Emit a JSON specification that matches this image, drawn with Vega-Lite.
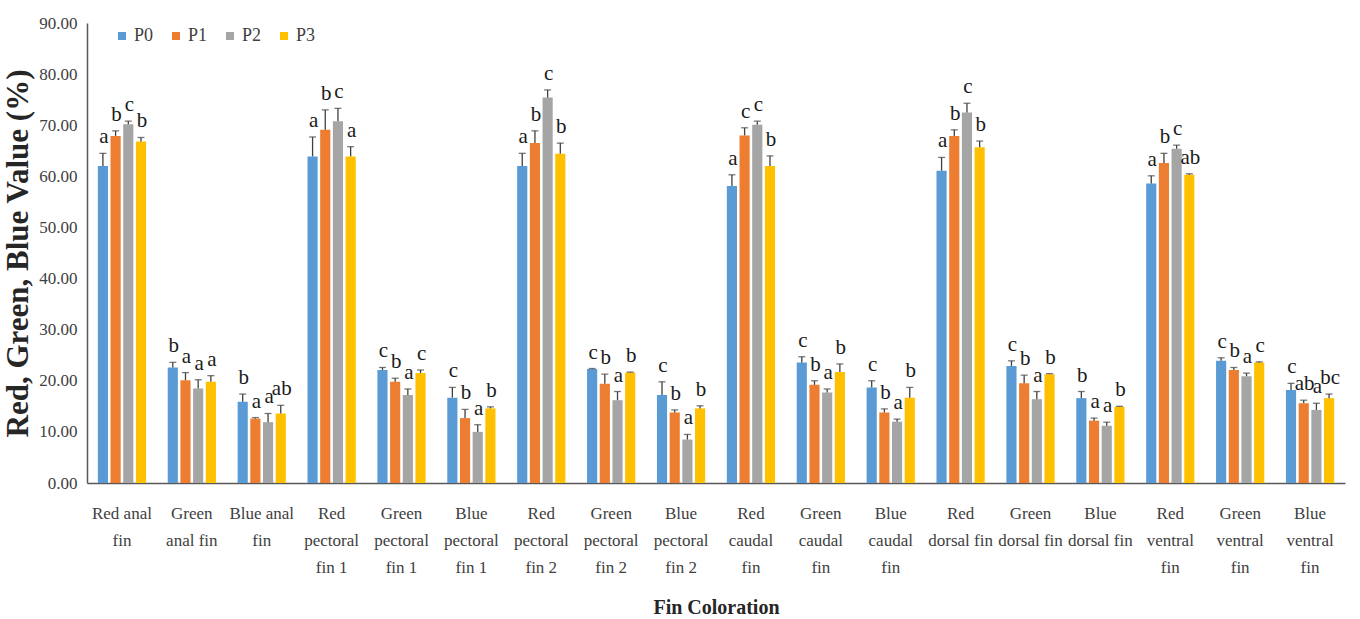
{
  "$schema": "https://vega.github.io/schema/vega-lite/v6.json",
  "autosize": "none",
  "width": 1258,
  "height": 460,
  "padding": {"left": 87, "top": 23, "right": 15, "bottom": 136},
  "background": "white",
  "config": {
    "view": {"stroke": null},
    "font": "Liberation Serif, Times New Roman, DejaVu Serif, serif",
    "axis": {"labelFont": "Liberation Serif, Times New Roman, serif", "titleFont": "Liberation Serif, Times New Roman, serif"},
    "legend": {"labelFont": "Liberation Serif, Times New Roman, serif"},
    "text": {"font": "Liberation Serif, Times New Roman, serif"}
  },
  "data": {
    "values": [
      {"fin": "Red anal fin", "group": "P0", "value": 62.0, "upper": 64.5, "letter": "a"},
      {"fin": "Red anal fin", "group": "P1", "value": 67.9, "upper": 68.9, "letter": "b"},
      {"fin": "Red anal fin", "group": "P2", "value": 70.2, "upper": 70.8, "letter": "c"},
      {"fin": "Red anal fin", "group": "P3", "value": 66.8, "upper": 67.6, "letter": "b"},
      {"fin": "Green anal fin", "group": "P0", "value": 22.6, "upper": 23.6, "letter": "b"},
      {"fin": "Green anal fin", "group": "P1", "value": 20.1, "upper": 21.6, "letter": "a"},
      {"fin": "Green anal fin", "group": "P2", "value": 18.5, "upper": 20.2, "letter": "a"},
      {"fin": "Green anal fin", "group": "P3", "value": 19.8, "upper": 21.0, "letter": "a"},
      {"fin": "Blue anal fin", "group": "P0", "value": 15.9, "upper": 17.4, "letter": "b"},
      {"fin": "Blue anal fin", "group": "P1", "value": 12.6, "upper": 12.8, "letter": "a"},
      {"fin": "Blue anal fin", "group": "P2", "value": 11.9, "upper": 13.6, "letter": "a"},
      {"fin": "Blue anal fin", "group": "P3", "value": 13.6, "upper": 15.2, "letter": "ab"},
      {"fin": "Red pectoral fin 1", "group": "P0", "value": 63.9, "upper": 67.7, "letter": "a"},
      {"fin": "Red pectoral fin 1", "group": "P1", "value": 69.1, "upper": 73.0, "letter": "b"},
      {"fin": "Red pectoral fin 1", "group": "P2", "value": 70.8, "upper": 73.3, "letter": "c"},
      {"fin": "Red pectoral fin 1", "group": "P3", "value": 63.9, "upper": 65.8, "letter": "a"},
      {"fin": "Green pectoral fin 1", "group": "P0", "value": 22.1, "upper": 22.6, "letter": "c"},
      {"fin": "Green pectoral fin 1", "group": "P1", "value": 19.8, "upper": 20.5, "letter": "b"},
      {"fin": "Green pectoral fin 1", "group": "P2", "value": 17.2, "upper": 18.4, "letter": "a"},
      {"fin": "Green pectoral fin 1", "group": "P3", "value": 21.5, "upper": 22.1, "letter": "c"},
      {"fin": "Blue pectoral fin 1", "group": "P0", "value": 16.7, "upper": 18.7, "letter": "c"},
      {"fin": "Blue pectoral fin 1", "group": "P1", "value": 12.7, "upper": 14.4, "letter": "b"},
      {"fin": "Blue pectoral fin 1", "group": "P2", "value": 10.0, "upper": 11.4, "letter": "a"},
      {"fin": "Blue pectoral fin 1", "group": "P3", "value": 14.6, "upper": 14.9, "letter": "b"},
      {"fin": "Red pectoral fin 2", "group": "P0", "value": 62.0, "upper": 64.5, "letter": "a"},
      {"fin": "Red pectoral fin 2", "group": "P1", "value": 66.5, "upper": 68.9, "letter": "b"},
      {"fin": "Red pectoral fin 2", "group": "P2", "value": 75.4, "upper": 76.9, "letter": "c"},
      {"fin": "Red pectoral fin 2", "group": "P3", "value": 64.4, "upper": 66.5, "letter": "b"},
      {"fin": "Green pectoral fin 2", "group": "P0", "value": 22.3, "upper": 22.4, "letter": "c"},
      {"fin": "Green pectoral fin 2", "group": "P1", "value": 19.4, "upper": 21.3, "letter": "b"},
      {"fin": "Green pectoral fin 2", "group": "P2", "value": 16.2, "upper": 17.9, "letter": "a"},
      {"fin": "Green pectoral fin 2", "group": "P3", "value": 21.6, "upper": 21.7, "letter": "b"},
      {"fin": "Blue pectoral fin 2", "group": "P0", "value": 17.2, "upper": 19.8, "letter": "c"},
      {"fin": "Blue pectoral fin 2", "group": "P1", "value": 13.8, "upper": 14.3, "letter": "b"},
      {"fin": "Blue pectoral fin 2", "group": "P2", "value": 8.5, "upper": 9.5, "letter": "a"},
      {"fin": "Blue pectoral fin 2", "group": "P3", "value": 14.6, "upper": 15.1, "letter": "b"},
      {"fin": "Red caudal fin", "group": "P0", "value": 58.1, "upper": 60.3, "letter": "a"},
      {"fin": "Red caudal fin", "group": "P1", "value": 68.0, "upper": 69.5, "letter": "c"},
      {"fin": "Red caudal fin", "group": "P2", "value": 70.1, "upper": 70.8, "letter": "c"},
      {"fin": "Red caudal fin", "group": "P3", "value": 62.0, "upper": 64.0, "letter": "b"},
      {"fin": "Green caudal fin", "group": "P0", "value": 23.6, "upper": 24.7, "letter": "c"},
      {"fin": "Green caudal fin", "group": "P1", "value": 19.2, "upper": 20.0, "letter": "b"},
      {"fin": "Green caudal fin", "group": "P2", "value": 17.7, "upper": 18.4, "letter": "a"},
      {"fin": "Green caudal fin", "group": "P3", "value": 21.7, "upper": 23.3, "letter": "b"},
      {"fin": "Blue caudal fin", "group": "P0", "value": 18.7, "upper": 20.0, "letter": "c"},
      {"fin": "Blue caudal fin", "group": "P1", "value": 13.8, "upper": 14.5, "letter": "b"},
      {"fin": "Blue caudal fin", "group": "P2", "value": 12.0, "upper": 12.5, "letter": "a"},
      {"fin": "Blue caudal fin", "group": "P3", "value": 16.7, "upper": 18.7, "letter": "b"},
      {"fin": "Red dorsal fin", "group": "P0", "value": 61.1, "upper": 63.7, "letter": "a"},
      {"fin": "Red dorsal fin", "group": "P1", "value": 67.9, "upper": 69.1, "letter": "b"},
      {"fin": "Red dorsal fin", "group": "P2", "value": 72.5, "upper": 74.3, "letter": "c"},
      {"fin": "Red dorsal fin", "group": "P3", "value": 65.7, "upper": 66.9, "letter": "b"},
      {"fin": "Green dorsal fin", "group": "P0", "value": 22.9, "upper": 23.9, "letter": "c"},
      {"fin": "Green dorsal fin", "group": "P1", "value": 19.5, "upper": 21.1, "letter": "b"},
      {"fin": "Green dorsal fin", "group": "P2", "value": 16.4, "upper": 17.9, "letter": "a"},
      {"fin": "Green dorsal fin", "group": "P3", "value": 21.3, "upper": 21.4, "letter": "b"},
      {"fin": "Blue dorsal fin", "group": "P0", "value": 16.6, "upper": 17.9, "letter": "b"},
      {"fin": "Blue dorsal fin", "group": "P1", "value": 12.2, "upper": 12.7, "letter": "a"},
      {"fin": "Blue dorsal fin", "group": "P2", "value": 11.2, "upper": 11.9, "letter": "a"},
      {"fin": "Blue dorsal fin", "group": "P3", "value": 14.9, "upper": 15.0, "letter": "b"},
      {"fin": "Red ventral fin", "group": "P0", "value": 58.6, "upper": 60.1, "letter": "a"},
      {"fin": "Red ventral fin", "group": "P1", "value": 62.6, "upper": 64.5, "letter": "b"},
      {"fin": "Red ventral fin", "group": "P2", "value": 65.4, "upper": 66.1, "letter": "c"},
      {"fin": "Red ventral fin", "group": "P3", "value": 60.3, "upper": 60.5, "letter": "ab"},
      {"fin": "Green ventral fin", "group": "P0", "value": 23.9, "upper": 24.5, "letter": "c"},
      {"fin": "Green ventral fin", "group": "P1", "value": 22.1, "upper": 22.6, "letter": "b"},
      {"fin": "Green ventral fin", "group": "P2", "value": 20.9, "upper": 21.5, "letter": "a"},
      {"fin": "Green ventral fin", "group": "P3", "value": 23.6, "upper": 23.7, "letter": "c"},
      {"fin": "Blue ventral fin", "group": "P0", "value": 18.2, "upper": 19.5, "letter": "c"},
      {"fin": "Blue ventral fin", "group": "P1", "value": 15.6, "upper": 16.2, "letter": "ab"},
      {"fin": "Blue ventral fin", "group": "P2", "value": 14.3, "upper": 15.6, "letter": "a"},
      {"fin": "Blue ventral fin", "group": "P3", "value": 16.6, "upper": 17.4, "letter": "bc"}
    ]
  },
  "encoding": {
    "x": {
      "field": "fin",
      "type": "nominal",
      "sort": null,
      "scale": {"paddingInner": 0.31, "paddingOuter": 0.155},
      "axis": {
        "title": "Fin Coloration",
        "titleFontSize": 20,
        "titleFontWeight": "bold",
        "titleColor": "#262626",
        "titleBaseline": "middle",
        "titleY": 124,
        "labelAngle": 0,
        "labelFontSize": 17,
        "labelColor": "#404040",
        "labelLineHeight": 27,
        "labelPadding": 22,
        "labelBaseline": "top",
        "labelLimit": 0,
        "ticks": false,
        "domainColor": "#595959",
        "domainWidth": 1.5,
        "labelExpr": "({'Red anal fin':['Red anal','fin'],'Green anal fin':['Green','anal fin'],'Blue anal fin':['Blue anal','fin'],'Red pectoral fin 1':['Red','pectoral','fin 1'],'Green pectoral fin 1':['Green','pectoral','fin 1'],'Blue pectoral fin 1':['Blue','pectoral','fin 1'],'Red pectoral fin 2':['Red','pectoral','fin 2'],'Green pectoral fin 2':['Green','pectoral','fin 2'],'Blue pectoral fin 2':['Blue','pectoral','fin 2'],'Red caudal fin':['Red','caudal','fin'],'Green caudal fin':['Green','caudal','fin'],'Blue caudal fin':['Blue','caudal','fin'],'Red dorsal fin':['Red','dorsal fin'],'Green dorsal fin':['Green','dorsal fin'],'Blue dorsal fin':['Blue','dorsal fin'],'Red ventral fin':['Red','ventral','fin'],'Green ventral fin':['Green','ventral','fin'],'Blue ventral fin':['Blue','ventral','fin']})[datum.label]"
      }
    },
    "xOffset": {
      "field": "group",
      "type": "nominal",
      "scale": {"paddingInner": 0.2, "paddingOuter": 0}
    }
  },
  "layer": [
    {
      "mark": {"type": "bar"},
      "encoding": {
        "y": {
          "field": "value",
          "type": "quantitative",
          "scale": {"domain": [0, 90]},
          "axis": {
            "title": "Red, Green, Blue Value (%)",
            "titleFontSize": 31,
            "titleFontWeight": "bold",
            "titleColor": "#262626",
            "titlePadding": 4,
            "values": [0, 10, 20, 30, 40, 50, 60, 70, 80, 90],
            "format": ".2f",
            "labelFontSize": 17,
            "labelColor": "#404040",
            "labelPadding": 10,
            "ticks": false,
            "grid": false,
            "domainColor": "#595959",
            "domainWidth": 1.5
          }
        },
        "color": {
          "field": "group",
          "type": "nominal",
          "scale": {"domain": ["P0", "P1", "P2", "P3"], "range": ["#5B9BD5", "#ED7D31", "#A5A5A5", "#FFC000"]},
          "legend": {
            "title": null,
            "orient": "none",
            "legendX": 26,
            "legendY": 4,
            "direction": "horizontal",
            "symbolType": "square",
            "symbolSize": 64,
            "symbolStrokeWidth": 0,
            "labelFontSize": 18,
            "labelColor": "#404040",
            "labelOffset": 3,
            "columnPadding": 13
          }
        }
      }
    },
    {
      "mark": {"type": "rule", "color": "#404040", "strokeWidth": 1.3},
      "encoding": {
        "y": {"field": "value", "type": "quantitative"},
        "y2": {"field": "upper"}
      }
    },
    {
      "mark": {"type": "tick", "color": "#404040", "size": 7, "thickness": 1.3, "orient": "horizontal"},
      "encoding": {
        "y": {"field": "upper", "type": "quantitative"}
      }
    },
    {
      "mark": {"type": "text", "fontSize": 21, "color": "#1a1a1a", "baseline": "alphabetic", "dy": -10, "dx": 1},
      "encoding": {
        "y": {"field": "upper", "type": "quantitative"},
        "text": {"field": "letter"}
      }
    }
  ]
}
